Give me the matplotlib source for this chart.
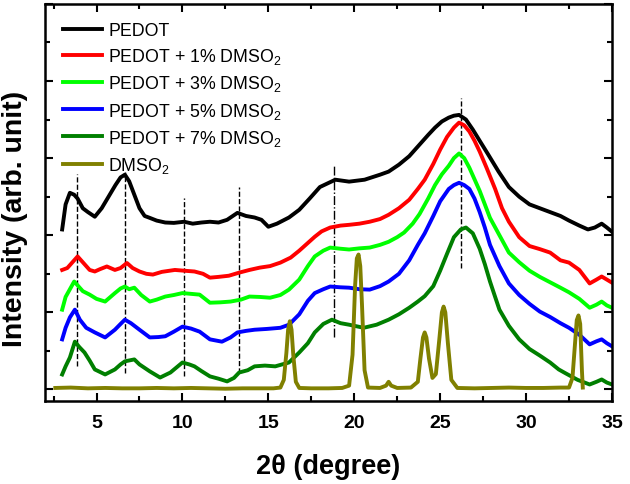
import matplotlib
matplotlib.use("Agg")
from matplotlib import pyplot as plt
from matplotlib.ticker import MultipleLocator, NullFormatter

plt.rcParams['font.family'] = ['Liberation Sans', 'DejaVu Sans']
plt.rcParams['mathtext.fontset'] = 'custom'
plt.rcParams['mathtext.rm'] = 'Liberation Sans'
plt.rcParams['mathtext.it'] = 'Liberation Sans:italic'
plt.rcParams['mathtext.bf'] = 'Liberation Sans:bold'

# PEDOT
x_pedot = [3.0, 3.2, 3.45, 3.7, 3.9, 4.2, 4.5, 4.9, 5.3, 5.7, 6.1, 6.4, 6.65, 6.9, 7.2, 7.5, 7.8, 8.1,
           8.5, 9.0, 9.5, 10.1, 10.6, 11.1, 11.6, 12.1, 12.6, 13.2, 13.7, 14.2, 14.6, 15.0, 15.5, 16.2,
           16.8, 17.4, 18.0, 18.9, 19.7, 20.6, 21.5, 22.0, 22.6, 23.2, 23.8, 24.3, 24.7, 25.1, 25.5,
           25.8, 26.1, 26.5, 26.9, 27.3, 27.8, 28.4, 29.0, 29.6, 30.2, 30.8, 31.4, 32.0, 32.5, 33.1,
           33.6, 34.0, 34.4, 34.7, 35.0]
y_pedot = [4.15, 4.8, 5.1, 5.05, 4.95, 4.7, 4.6, 4.48, 4.7, 5.0, 5.3, 5.5, 5.57, 5.4, 5.05, 4.7, 4.5,
           4.45, 4.38, 4.33, 4.32, 4.35, 4.3, 4.33, 4.35, 4.33, 4.4, 4.58, 4.5, 4.46, 4.4, 4.22, 4.3,
           4.46, 4.66, 4.95, 5.25, 5.44, 5.39, 5.44, 5.57, 5.65, 5.83, 6.05, 6.35, 6.6, 6.79, 6.95,
           7.05, 7.1, 7.12, 7.0, 6.74, 6.45, 6.09, 5.65, 5.25, 5.0, 4.8, 4.7, 4.6, 4.5, 4.38, 4.25,
           4.15, 4.2, 4.3, 4.2, 4.09]

# PEDOT + 1% DMSO2
x_1 = [3.0, 3.3, 3.6, 3.9, 4.2, 4.6, 4.9, 5.2, 5.6, 6.07, 6.4, 6.77, 7.1, 7.5, 7.9, 8.28, 8.8, 9.56,
       10.1, 10.7, 11.2, 11.6, 12.1, 12.7, 13.3, 13.9, 14.5, 15.1, 15.7, 16.3, 16.8, 17.3, 17.7, 18.1,
       18.6, 19.2, 19.7, 20.3, 20.9, 21.5, 22.0, 22.6, 23.2, 23.7, 24.1, 24.6, 25.0, 25.4, 25.8, 26.1,
       26.4, 26.7, 27.0, 27.3, 27.7, 28.2, 28.6, 29.0, 29.6, 30.2, 30.8, 31.4, 32.0, 32.5, 33.1, 33.7,
       34.1, 34.4, 34.7, 35.0]
y_1 = [3.1, 3.15, 3.3, 3.45, 3.3, 3.1, 3.06, 3.12, 3.19, 3.1, 3.15, 3.28, 3.15, 3.06, 3.0, 2.98, 3.05,
       3.1, 3.08, 3.06, 3.0, 2.9, 2.92, 2.95, 3.03, 3.1, 3.16, 3.2, 3.29, 3.42, 3.6, 3.8, 3.96, 4.1,
       4.2, 4.25, 4.27, 4.3, 4.35, 4.42, 4.53, 4.7, 4.92, 5.2, 5.44, 5.85, 6.22, 6.55, 6.79, 6.92,
       6.85, 6.69, 6.45, 6.17, 5.75, 5.2, 4.7, 4.35, 3.95, 3.72, 3.64, 3.55, 3.35, 3.29, 3.1, 2.75,
       2.85, 2.93, 2.85, 2.77]

# PEDOT + 3% DMSO2
x_3 = [3.0, 3.2, 3.45, 3.7, 3.9, 4.2, 4.6, 5.0, 5.5, 6.07, 6.4, 6.65, 6.9, 7.2, 7.6, 8.1, 8.5, 9.0,
       9.5, 10.0, 10.5, 11.0, 11.6, 12.2, 12.8, 13.4, 13.9, 14.5, 15.1, 15.7, 16.2, 16.8, 17.3, 17.7,
       18.2, 18.6, 19.2, 19.7, 20.3, 20.9, 21.5, 22.0, 22.5, 22.9, 23.4, 23.8, 24.3, 24.7, 25.1, 25.5,
       25.8, 26.1, 26.4, 26.7, 27.0, 27.3, 27.6, 27.9, 28.45, 29.0, 29.6, 30.2, 30.8, 31.4, 32.0,
       32.5, 33.1, 33.7, 34.1, 34.4, 34.7, 35.0]
y_3 = [2.07, 2.4, 2.6, 2.8, 2.7, 2.55, 2.46, 2.35, 2.28, 2.5, 2.62, 2.67, 2.6, 2.64, 2.45, 2.28, 2.33,
       2.41, 2.45, 2.5, 2.48, 2.46, 2.25, 2.26, 2.28, 2.33, 2.41, 2.4, 2.38, 2.45, 2.59, 2.85, 3.2,
       3.45, 3.6, 3.68, 3.65, 3.63, 3.66, 3.68, 3.75, 3.83, 3.95, 4.07, 4.3, 4.55, 4.95, 5.3, 5.58,
       5.8, 6.0, 6.12, 6.0, 5.75, 5.45, 5.15, 4.8, 4.45, 4.0, 3.55, 3.3, 3.08, 2.92, 2.78, 2.64,
       2.52, 2.35, 2.12, 2.2, 2.28, 2.18, 2.12]

# PEDOT + 5% DMSO2
x_5 = [3.0, 3.2, 3.45, 3.74, 4.03, 4.4, 4.9, 5.5, 6.07, 6.4, 6.65, 7.0, 7.5, 8.1, 8.6, 9.0, 9.5, 10.0,
       10.5, 11.0, 11.6, 12.3, 12.8, 13.2, 13.7, 14.2, 14.9, 15.7, 16.2, 16.8, 17.3, 17.7, 18.2, 18.6,
       19.2, 19.7, 20.3, 20.9, 21.5, 22.0, 22.6, 23.2, 23.7, 24.1, 24.6, 25.0, 25.5, 25.8, 26.1, 26.4,
       26.7, 27.0, 27.3, 27.6, 27.9, 28.45, 29.0, 29.6, 30.2, 30.8, 31.4, 32.0, 32.5, 33.1, 33.7,
       34.1, 34.4, 34.7, 35.0]
y_5 = [1.3, 1.6, 1.87, 2.07, 1.81, 1.6, 1.48, 1.35, 1.55, 1.7, 1.81, 1.72, 1.55, 1.35, 1.36, 1.38,
       1.5, 1.63, 1.58, 1.5, 1.3, 1.24, 1.35, 1.48, 1.52, 1.55, 1.57, 1.6, 1.68, 1.95, 2.3, 2.5, 2.6,
       2.67, 2.65, 2.64, 2.6, 2.59, 2.68, 2.8, 3.0, 3.35, 3.75, 4.05, 4.5, 4.88, 5.2, 5.3, 5.36, 5.3,
       5.2, 4.95, 4.6, 4.2, 3.75, 3.2, 2.75, 2.45, 2.22, 2.02, 1.88, 1.72, 1.6, 1.42, 1.17, 1.25,
       1.3, 1.2, 1.12]

# PEDOT + 7% DMSO2
x_7 = [3.0, 3.2, 3.45, 3.74, 4.0, 4.3, 4.6, 4.9, 5.5, 6.07, 6.4, 6.65, 7.2, 7.5, 8.1, 8.7, 9.3, 10.0,
       10.4, 10.7, 11.1, 11.6, 12.1, 12.6, 13.0, 13.3, 13.8, 14.2, 14.8, 15.4, 16.2, 16.8, 17.3, 17.7,
       18.2, 18.7, 19.2, 19.7, 20.55, 21.3, 22.0, 22.6, 23.2, 23.7, 24.1, 24.6, 25.0, 25.4, 25.8, 26.2,
       26.5, 26.9, 27.3, 27.6, 27.9, 28.2, 28.45, 29.0, 29.6, 30.2, 30.8, 31.4, 31.9, 32.3, 33.0, 33.7,
       34.1, 34.4, 34.7, 35.0]
y_7 = [0.39, 0.6, 0.83, 1.24, 1.1, 0.96, 0.75, 0.52, 0.39, 0.52, 0.65, 0.73, 0.78, 0.65, 0.47, 0.31,
       0.44, 0.7, 0.65, 0.6, 0.48, 0.34, 0.28, 0.21, 0.3, 0.44, 0.5, 0.6, 0.62, 0.6, 0.7, 0.96, 1.2,
       1.48, 1.7, 1.81, 1.72, 1.68, 1.6, 1.68, 1.81, 1.95, 2.12, 2.28, 2.42, 2.68, 3.08, 3.52, 3.95,
       4.15, 4.2, 4.05, 3.65, 3.25, 2.8, 2.4, 2.07, 1.65, 1.3, 1.05, 0.88, 0.7, 0.52, 0.42, 0.25,
       0.13, 0.2, 0.26, 0.18, 0.13]

# DMSO2
x_dmso = [2.6, 3.5, 4.5, 5.5, 6.5, 7.5, 8.5, 9.5, 10.5, 11.5, 12.5, 13.5, 14.5, 15.3, 15.7, 15.9,
          16.05, 16.15, 16.25, 16.35, 16.45, 16.6, 16.8, 17.5, 18.5, 19.3, 19.7, 19.9, 20.05, 20.15,
          20.25, 20.35, 20.45, 20.6, 20.8, 21.5, 21.85, 22.0, 22.15, 22.5, 23.3, 23.7, 23.85, 24.0,
          24.1, 24.2, 24.35, 24.55, 24.75, 24.95, 25.1, 25.2, 25.3, 25.45, 25.65, 26.0, 27.0, 28.0,
          29.0, 30.0, 31.0, 32.0, 32.5, 32.7, 32.85, 32.95, 33.05, 33.15, 33.25, 33.3]
y_dmso = [0.04, 0.05, 0.03, 0.04, 0.03, 0.03, 0.04, 0.03, 0.04, 0.03, 0.02, 0.03, 0.03, 0.03, 0.05,
          0.25, 0.95, 1.55, 1.77, 1.55, 0.9, 0.2, 0.04, 0.03, 0.03, 0.04, 0.1, 0.9, 2.7, 3.4, 3.5,
          3.2, 2.2, 0.5, 0.05, 0.04, 0.1, 0.2, 0.1, 0.04, 0.05, 0.2, 0.8, 1.35, 1.48, 1.35, 0.8, 0.3,
          0.4, 1.3, 2.0, 2.15, 2.0, 1.2, 0.25, 0.04, 0.03, 0.04, 0.05, 0.04, 0.04, 0.05, 0.05, 0.3,
          1.2, 1.8, 1.92, 1.7, 0.5, 0.05]

# guide lines at peak positions: (x, y bottom, y top)
peak_pos = [3.86, 6.65, 10.1, 13.3, 18.8, 26.2]
peak_ymin = [0.6, 0.44, 0.34, 0.44, 1.35, 3.16]
peak_ymax = [5.6, 5.65, 4.97, 5.26, 5.83, 7.56]

series = [
    (x_pedot, y_pedot, "PEDOT", "#000000"),
    (x_1, y_1, "PEDOT + 1% DMSO$_2$", "#ff0000"),
    (x_3, y_3, "PEDOT + 3% DMSO$_2$", "#00ff00"),
    (x_5, y_5, "PEDOT + 5% DMSO$_2$", "#0000ff"),
    (x_7, y_7, "PEDOT + 7% DMSO$_2$", "#007f00"),
    (x_dmso, y_dmso, "DMSO$_2$", "#808000"),
]

fig = plt.figure(figsize=(6.3, 4.85), dpi=100)
ax = fig.add_axes([0.0714, 0.171, 0.9, 0.819])

for xs, ys, name, col in series:
    ax.plot(xs, ys, color=col, lw=2.8, label=name)

styles = ["--", "--", "--", "--", "-.", "--"]
for xp, y0, y1, st in zip(peak_pos, peak_ymin, peak_ymax, styles):
    ax.plot([xp, xp], [y0, y1], color="black", lw=1.0, linestyle=st, zorder=1)

ax.set_xlim(2, 35)
ax.set_ylim(-0.3, 10)
ax.xaxis.set_major_locator(MultipleLocator(5))
ax.xaxis.set_minor_locator(MultipleLocator(2.5))
ax.yaxis.set_major_locator(MultipleLocator(2))
ax.yaxis.set_minor_locator(MultipleLocator(1))
ax.yaxis.set_major_formatter(NullFormatter())
ax.tick_params(which="both", direction="in", top=True, right=True, width=1.5)
ax.tick_params(which="major", length=6)
ax.tick_params(which="minor", length=3.5)
ax.tick_params(axis="x", labelsize=14, pad=9)
for lbl in ax.get_xticklabels():
    lbl.set_fontweight("bold")
for sp in ax.spines.values():
    sp.set_linewidth(1.8)

ax.set_xlabel("2θ (degree)", fontsize=19.5, fontweight="bold", labelpad=16)
ax.set_ylabel("Intensity (arb. unit)", fontsize=20.5, fontweight="bold")
ax.yaxis.set_label_coords(-0.03, 0.46)

ax.legend(loc="upper left", frameon=False, fontsize=12.8, handlelength=2.2,
          handletextpad=0.35, labelspacing=0.4, borderaxespad=0.3,
          bbox_to_anchor=(0.01, 0.985))

fig.savefig("out.png", dpi=100)
